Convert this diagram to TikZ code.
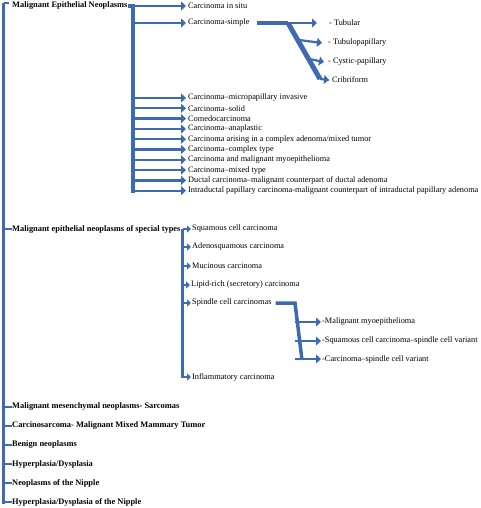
\documentclass[tikz,border=0pt]{standalone}
\usepackage{fontspec}
\setmainfont{Liberation Serif}
\usetikzlibrary{arrows.meta,calc}
\definecolor{barblue}{RGB}{62,106,180}

\begin{document}
\begin{tikzpicture}
      [x=1pt, y=-1pt,
        item/.style={anchor=west, inner sep=0pt, font=\fontsize{8.3}{9}\selectfont},
        head/.style={item, font=\fontsize{8.4}{9}\selectfont\bfseries},
        bar/.style={draw=barblue, line width=3.5pt},
        arr/.style={draw=barblue, line width=2.2pt, -{Triangle[length=5pt, width=9pt]}}]
      \useasboundingbox (0,0) rectangle (480,508);

      \coordinate (top) at (3.5,3);
      \coordinate (bot) at (3.5,504);

      \node[head] (epi)  at (12,6)   {Malignant Epithelial Neoplasms};
      \node[head] (spec) at (12,229) {Malignant epithelial neoplasms of special types};
      \node[head] (sarc) at (12,407) {Malignant mesenchymal neoplasms- Sarcomas};
      \node[head] (csar) at (12,426) {Carcinosarcoma- Malignant Mixed Mammary Tumor};
      \node[head] (beni) at (12,445) {Benign neoplasms};
      \node[head] (hypd) at (12,464) {Hyperplasia/Dysplasia};
      \node[head] (nipp) at (12,483) {Neoplasms of the Nipple};
      \node[head] (hypn) at (12,502) {Hyperplasia/Dysplasia of the Nipple};

      \draw[bar] (top) -- (bot);
      \draw[bar, line width=2.5pt] (top) -- ++(5,0);
      \foreach \n in {spec,sarc,csar,beni,hypd,nipp,hypn}
        \draw[bar, line width=2.5pt] (top |- \n) -- (\n.west);

      % malignant epithelial neoplasms
      \coordinate (g1top) at (133,6);
      \coordinate (g1bot) at (133,193);
      \draw[bar] (epi.east) -- (g1top) -- (g1bot);
      \node[item] (situ) at (188,6)   {Carcinoma in situ};
      \node[item] (simp) at (188,23)  {Carcinoma-simple};
      \node[item] (micr) at (188,98)  {Carcinoma--micropapillary invasive};
      \node[item] (soli) at (188,108.3) {Carcinoma--solid};
      \node[item] (come) at (188,118.6) {Comedocarcinoma};
      \node[item] (anap) at (188,129) {Carcinoma--anaplastic};
      \node[item] (aris) at (188,139.2) {Carcinoma arising in a complex adenoma/mixed tumor};
      \node[item] (cplx) at (188,149.5) {Carcinoma--complex type};
      \node[item] (myoe) at (188,159.8) {Carcinoma and malignant myoepithelioma};
      \node[item] (mixd) at (188,170.1) {Carcinoma--mixed type};
      \node[item] (duct) at (188,180.4) {Ductal carcinoma--malignant counterpart of ductal adenoma};
      \node[item] (intr) at (188,190.7) {Intraductal papillary carcinoma-malignant counterpart of intraductal papillary adenoma};
      \foreach \n in {situ,simp,micr,soli,come,anap,aris,cplx,myoe,mixd,duct,intr}
        \draw[arr] (g1top |- \n) -- ([xshift=-2pt]\n.west);

      % carcinoma-simple
      \coordinate (fork) at (288,23);
      \coordinate (forkend) at (320,79);
      \node[item] (tubu) at (329,23) {- Tubular};
      \node[item] (tubp) at (328,43) {- Tubulopapillary};
      \node[item] (cyst) at (328,62) {- Cystic-papillary};
      \node[item] (crib) at (327,80) {- Cribriform};
      \draw[bar] ([xshift=7pt]simp.east) -- (fork);
      \draw[arr] (fork) -- ([xshift=-12pt]tubu.west);
      \draw[bar, line width=5pt] (fork) -- (forkend);
      \draw[arr] (forkend) -- ([xshift=2pt]crib.west);
      \draw[arr] ($(fork)!0.3!(forkend)$) -- ([xshift=-6pt]tubp.west);
      \draw[arr] ($(fork)!0.64!(forkend)$) -- ([xshift=-4pt]cyst.west);

      % special types
      \coordinate (g2top) at (182.5,229);
      \coordinate (g2bot) at (182.5,378);
      \draw[bar] (g2top) -- (g2bot);
      \node[item] (squa) at (192,229) {Squamous cell carcinoma};
      \node[item] (aden) at (192,247) {Adenosquamous carcinoma};
      \node[item] (muci) at (192,266) {Mucinous carcinoma};
      \node[item] (lipi) at (191,285) {Lipid-rich (secretory) carcinoma};
      \node[item] (spin) at (192,303) {Spindle cell carcinomas};
      \node[item] (infl) at (192,377) {Inflammatory carcinoma};
      \foreach \n in {squa,aden,muci,lipi,spin,infl}
        \draw[arr, line width=2pt, -{Triangle[length=4pt, width=7pt]}] (g2top |- \n) -- ([xshift=-1pt]\n.west);

      % spindle cell carcinomas
      \coordinate (sfork) at (295,303);
      \coordinate (sforkend) at (302,360);
      \node[item] (mmyo) at (322,322) {-Malignant myoepithelioma};
      \node[item] (sqsp) at (322,341) {-Squamous cell carcinoma--spindle cell variant};
      \node[item] (casp) at (322,359) {-Carcinoma--spindle cell variant};
      \draw[bar] ([xshift=4pt]spin.east) -- (sfork) -- (sforkend);
      \foreach \n in {mmyo,sqsp,casp}
        \draw[arr] (sfork |- \n) -- ([xshift=-1pt]\n.west);
\end{tikzpicture}
\end{document}
